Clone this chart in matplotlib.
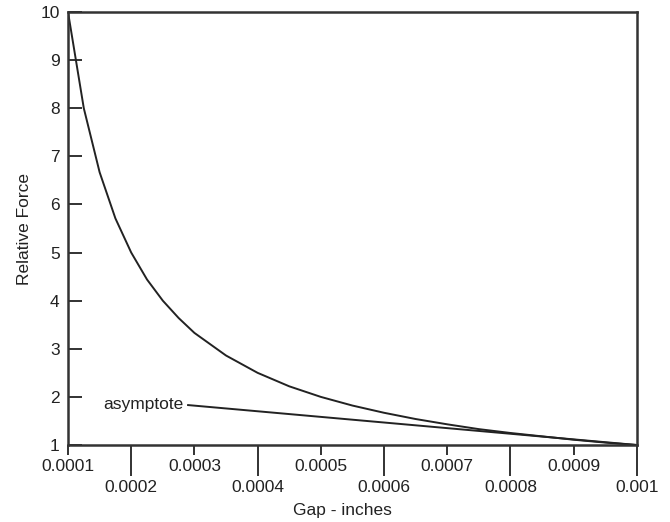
import matplotlib
matplotlib.use("Agg")
import matplotlib.pyplot as plt

plt.rcParams['font.family'] = ['Liberation Sans', 'DejaVu Sans']

# values
gap = [0.0001, 0.000125, 0.00015, 0.000175, 0.0002, 0.000225, 0.00025, 0.000275,
       0.0003, 0.00035, 0.0004, 0.00045, 0.0005, 0.00055, 0.0006, 0.00065,
       0.0007, 0.00075, 0.0008, 0.00085, 0.0009, 0.00095, 0.001]
force = [10, 8.0, 6.67, 5.71, 5.0, 4.44, 4.0, 3.64,
         3.33, 2.86, 2.5, 2.22, 2.0, 1.82, 1.67, 1.54,
         1.43, 1.33, 1.25, 1.18, 1.11, 1.05, 1.0]

asym_x = [0.00029, 0.001]
asym_y = [1.83, 1.0]

odd_ticks = [0.0001, 0.0003, 0.0005, 0.0007, 0.0009]
odd_labels = ['0.0001', '0.0003', '0.0005', '0.0007', '0.0009']
even_ticks = [0.0002, 0.0004, 0.0006, 0.0008, 0.001]
even_labels = ['0.0002', '0.0004', '0.0006', '0.0008', '0.001']
y_ticks = list(range(1, 11))

fig = plt.figure(figsize=(6.7, 5.22), dpi=100)
ax = fig.add_axes([0.1015, 0.1475, 0.849, 0.8295])

ink = '#222222'
ax.plot(gap, force, color=ink, lw=1.4)
ax.plot(asym_x, asym_y, color=ink, lw=1.4)
ax.text(0.000282, 1.84, 'asymptote', ha='right', va='center', fontsize=12.5, color=ink)

ax.set_xlim(0.0001, 0.001)
ax.set_ylim(1, 10)

ax.set_xticks(odd_ticks)
ax.set_xticklabels(odd_labels)
ax.set_xticks(even_ticks, minor=True)
ax.set_xticklabels(even_labels, minor=True)
ax.tick_params(axis='x', which='major', direction='out', length=7, width=1.3,
               pad=3, labelsize=12.5, color=ink, labelcolor=ink)
ax.tick_params(axis='x', which='minor', direction='out', length=22, width=1.3,
               pad=3, labelsize=12.5, color=ink, labelcolor=ink)

ax.set_yticks(y_ticks)
ax.tick_params(axis='y', direction='in', length=10, width=1.3, pad=6,
               labelsize=12.5, color=ink, labelcolor=ink)

for s in ax.spines.values():
    s.set_color('#333333')
    s.set_linewidth(1.8)

ax.set_ylabel('Relative Force', fontsize=12.5, color=ink, labelpad=6)
fig.text(342 / 670, 1 - 510 / 522, 'Gap - inches', ha='center', va='center',
         fontsize=12.5, color=ink)

fig.savefig('out.png', dpi=100)
